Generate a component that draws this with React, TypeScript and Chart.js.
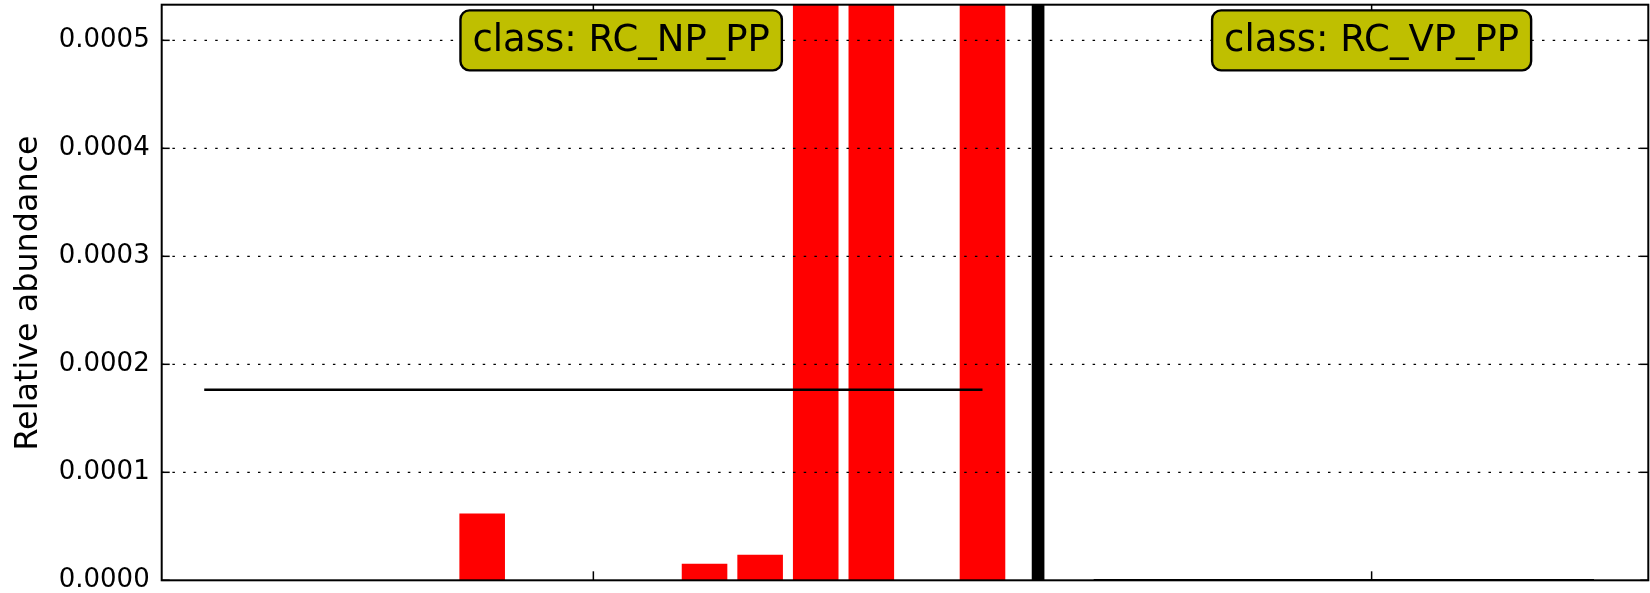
import React, { useEffect, useRef } from 'react';
import { Chart, registerables } from 'chart.js';

Chart.register(...registerables);

// ---- data ----
const classNames = ['RC_NP_PP', 'RC_VP_PP'];
const rcNpPpValues = [0, 0, 0, 0, 0, 0.0000618, 0, 0, 0, 0.0000154, 0.0000237, 0.00078, 0.00092, 0, 0.000845];
const rcVpPpValues = [0, 0, 0, 0, 0, 0, 0, 0, 0, 0];
const yTickValues = [0, 0.0001, 0.0002, 0.0003, 0.0004, 0.0005];
const xTickSlots = [7, 21];
const separatorValue = 0.001;
const yMax = 0.000533;
const xMin = -0.765;
const xMax = 25.977;
const yTitle = 'Relative abundance';

const FONT = 'DejaVu Sans';

const mean = (a: number[]) => a.reduce((s, v) => s + v, 0) / a.length;

const npStart = 0;
const sepSlot = rcNpPpValues.length;
const vpStart = sepSlot + 1;

const groups = [
  { name: classNames[0], values: rcNpPpValues, start: npStart },
  { name: classNames[1], values: rcVpPpValues, start: vpStart },
];

const overlay = {
  id: 'overlay',
  afterDatasetsDraw(chart: any) {
    const { ctx, chartArea: a, scales } = chart;
    const x = scales.x;
    const y = scales.y;
    const line = (x1: number, y1: number, x2: number, y2: number) => {
      ctx.beginPath();
      ctx.moveTo(x1, y1);
      ctx.lineTo(x2, y2);
      ctx.stroke();
    };
    ctx.save();
    // dotted grid on top of bars
    ctx.strokeStyle = '#000';
    ctx.lineWidth = 1.2;
    ctx.setLineDash([2.5, 8.2]);
    yTickValues.forEach((v) => {
      if (v === 0) return;
      const py = y.getPixelForValue(v);
      line(a.left, py, a.right, py);
    });
    ctx.setLineDash([]);
    // inward ticks
    ctx.lineWidth = 1.5;
    yTickValues.forEach((v) => {
      const py = y.getPixelForValue(v);
      line(a.left, py, a.left + 8, py);
      line(a.right - 8, py, a.right, py);
    });
    xTickSlots.forEach((s) => {
      const px = x.getPixelForValue(s);
      line(px, a.bottom, px, a.bottom - 9);
      line(px, a.top, px, a.top + 9);
    });
    // frame
    ctx.lineWidth = 2;
    ctx.strokeRect(a.left, a.top, a.right - a.left, a.bottom - a.top);
    // y title
    ctx.fillStyle = '#000';
    ctx.font = `31.8px "${FONT}"`;
    ctx.textAlign = 'center';
    ctx.textBaseline = 'middle';
    ctx.save();
    ctx.translate(29, 293);
    ctx.rotate(-Math.PI / 2);
    ctx.fillText(yTitle, 0, 0);
    ctx.restore();
    // class label boxes
    ctx.font = `37px "${FONT}"`;
    groups.forEach((g) => {
      const text = 'class: ' + g.name;
      const cx = x.getPixelForValue(g.start + g.values.length / 2);
      const cy = y.getPixelForValue(0.0005);
      const w = ctx.measureText(text).width + 24;
      const h = 60;
      const l = cx - w / 2;
      const t = cy - h / 2;
      const r = 9;
      ctx.beginPath();
      ctx.moveTo(l + r, t);
      ctx.lineTo(l + w - r, t);
      ctx.arcTo(l + w, t, l + w, t + r, r);
      ctx.lineTo(l + w, t + h - r);
      ctx.arcTo(l + w, t + h, l + w - r, t + h, r);
      ctx.lineTo(l + r, t + h);
      ctx.arcTo(l, t + h, l, t + h - r, r);
      ctx.lineTo(l, t + r);
      ctx.arcTo(l, t, l + r, t, r);
      ctx.closePath();
      ctx.fillStyle = '#bfbf00';
      ctx.fill();
      ctx.lineWidth = 2.4;
      ctx.strokeStyle = '#000';
      ctx.stroke();
      ctx.fillStyle = '#000';
      ctx.fillText(text, cx, cy + 1);
    });
    ctx.restore();
  },
};

export default function App() {
  const ref = useRef<HTMLCanvasElement>(null);
  useEffect(() => {
    const barData = groups.flatMap((g) => g.values.map((v, i) => ({ x: g.start + i, y: v })));
    const meanDatasets = groups.map((g) => {
      const m = mean(g.values);
      return {
        type: 'line' as const,
        data: [
          { x: g.start, y: m },
          { x: g.start + g.values.length - 1, y: m },
        ],
        borderColor: '#000',
        borderWidth: 2.6,
        pointRadius: 0,
        fill: false,
        order: 0,
      };
    });
    const chart = new Chart(ref.current!, {
      type: 'bar',
      data: {
        datasets: [
          ...meanDatasets,
          {
            type: 'bar',
            data: barData,
            backgroundColor: '#ff0000',
            borderWidth: 0,
            barPercentage: 0.82,
            categoryPercentage: 1,
            grouped: false,
            order: 1,
          },
          {
            type: 'bar',
            data: [{ x: sepSlot, y: separatorValue }],
            backgroundColor: '#000',
            borderWidth: 0,
            barPercentage: 0.228,
            categoryPercentage: 1,
            grouped: false,
            order: 1,
          },
        ] as any,
      },
      options: {
        responsive: false,
        animation: false,
        devicePixelRatio: 1,
        layout: { padding: { top: 4.7, right: 1.7, bottom: 12.7, left: 0 } },
        plugins: { legend: { display: false }, tooltip: { enabled: false } },
        scales: {
          x: {
            type: 'linear',
            display: false,
            min: xMin,
            max: xMax,
            offset: false,
            ticks: { stepSize: 1, includeBounds: false },
          },
          y: {
            min: 0,
            max: yMax,
            border: { display: false },
            grid: { display: false, drawTicks: false },
            afterBuildTicks: (scale: any) => {
              scale.ticks = yTickValues.map((v) => ({ value: v }));
            },
            afterFit: (scale: any) => {
              scale.width = 161.7;
              scale.paddingTop = 0;
              scale.paddingBottom = 0;
            },
            ticks: {
              padding: 12,
              color: '#000',
              font: { family: FONT, size: 26 },
              callback: (v: any) => Number(v).toFixed(4),
            },
          },
        },
      },
      plugins: [overlay],
    });
    return () => chart.destroy();
  }, []);
  return (
    <div style={{ position: 'fixed', left: 0, top: 0, width: 1650, height: 593, background: '#fff' }}>
      <canvas ref={ref} width={1650} height={593} style={{ display: 'block', width: 1650, height: 593 }} />
    </div>
  );
}
